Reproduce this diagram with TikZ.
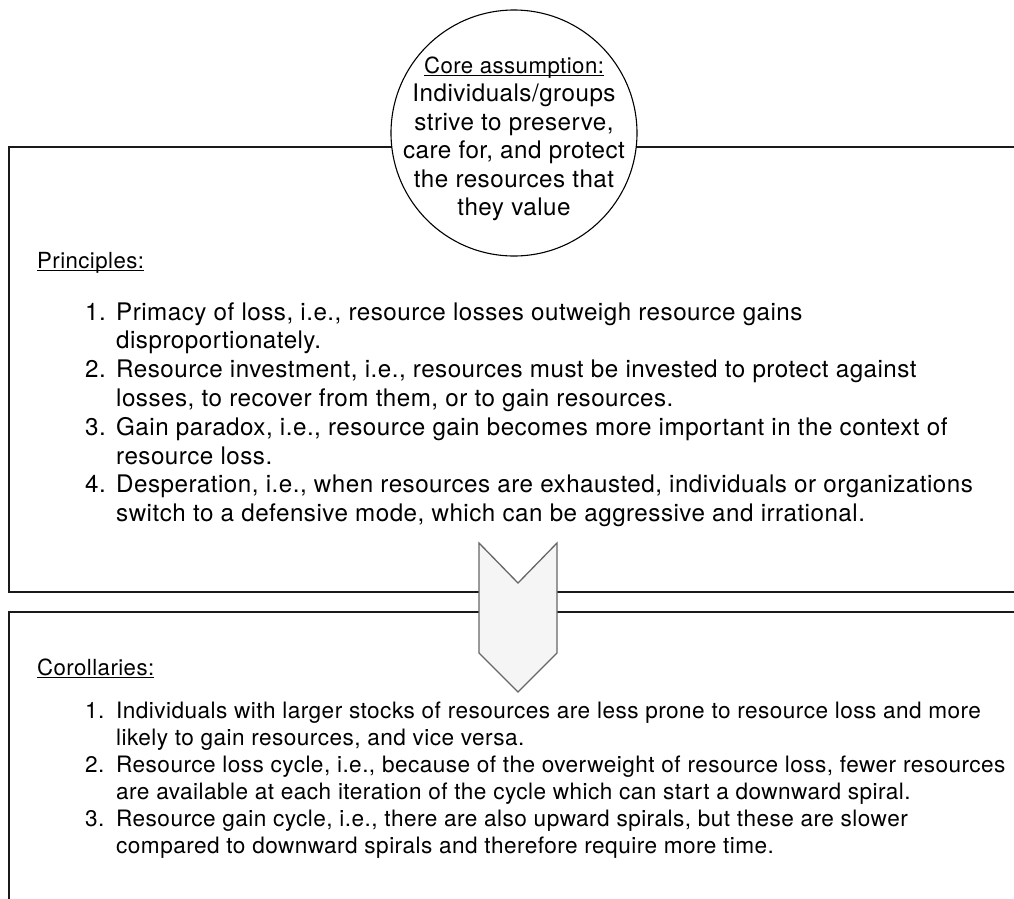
\documentclass[tikz,border=0pt]{standalone}
\usepackage{fontspec}
\setmainfont{TeX Gyre Heros}
\newfontfamily\spacedfont[LetterSpace=2.0]{TeX Gyre Heros}
\usetikzlibrary{calc}

% underline that sits just under the baseline and crosses descenders
\newcommand{\ulabel}[1]{\setbox0\hbox{#1}\rlap{\rule[-2.8pt]{\wd0}{1.1pt}}\box0}
% fixed-width slot for the item number
\newcommand{\itemno}[1]{\makebox[31pt][l]{#1}}
\newcommand{\headfont}{\spacedfont\fontsize{22.2}{28.5}\selectfont}

\definecolor{chevfill}{HTML}{F5F5F5}
\definecolor{chevline}{HTML}{666666}
\definecolor{frameline}{HTML}{1A1A1A}

\tikzset{
  frame/.style={draw=frameline, line width=1.6pt},
  coreshape/.style={circle, draw=black, fill=white, line width=1.1pt,
    minimum size=246pt, inner sep=0pt},
  chevron/.style={fill=chevfill, draw=chevline, line width=1.3pt, line join=miter},
  bodytext/.style={inner sep=0pt, font=\spacedfont\fontsize{24.2}{28.8}\selectfont},
  smalltext/.style={inner sep=0pt, font=\spacedfont\fontsize{22.6}{27.1}\selectfont},
  heading/.style={inner sep=0pt, anchor=base west, font=\headfont},
  listblock/.style={bodytext, anchor=base west},
  smalllist/.style={smalltext, anchor=base west},
}

\begin{document}
\begin{tikzpicture}[x=1pt, y=-1pt]
  \useasboundingbox (0,0) rectangle (1014,898);
  \begin{scope}
    \clip (0,0) rectangle (1014,898);

    % upper frame: principles (open to the right)
    \draw[frame] (1030,147) -- (9,147) -- (9,592) -- (1030,592);
    % lower frame: corollaries (open to the right and bottom)
    \draw[frame] (1030,612) -- (9,612) -- (9,910);

    % core assumption circle sitting on the upper frame
    \node[coreshape] (core) at (514,133) {};
    \node[inner sep=0pt, anchor=base, font=\spacedfont\fontsize{24.2}{28.5}\selectfont]
      (coretext) at (514,73)
      {\begin{tabular}[t]{@{}c@{}}
        {\headfont\ulabel{Core assumption:}}\\
        Individuals/groups\\
        strive to preserve,\\
        care for, and protect\\
        the resources that\\
        they value
      \end{tabular}};

    % chevron linking the two frames
    \path[chevron] (479,543) coordinate (cA) -- (518,583) coordinate (cB)
      -- (557,543) coordinate (cC) -- (557,653) coordinate (cD)
      -- (518,692) coordinate (cE) -- (479,653) coordinate (cF) -- cycle;

    % principles
    \node[heading] (prinhead) at (37,268) {\ulabel{Principles:}};
    \node[listblock] (prinlist) at (85,320)
      {\begin{tabular}[t]{@{}l@{}}
        \itemno{1.}Primacy of loss, i.e., resource losses outweigh resource gains\\
        \itemno{}disproportionately.\\
        \itemno{2.}Resource investment, i.e., resources must be invested to protect against\\
        \itemno{}losses, to recover from them, or to gain resources.\\
        \itemno{3.}Gain paradox, i.e., resource gain becomes more important in the context of\\
        \itemno{}resource loss.\\
        \itemno{4.}Desperation, i.e., when resources are exhausted, individuals or organizations\\
        \itemno{}switch to a defensive mode, which can be aggressive and irrational.
      \end{tabular}};

    % corollaries
    \node[heading] (corhead) at (37,675) {\ulabel{Corollaries:}};
    \node[smalllist] (corlist) at (85,718)
      {\begin{tabular}[t]{@{}l@{}}
        \itemno{1.}Individuals with larger stocks of resources are less prone to resource loss and more\\
        \itemno{}likely to gain resources, and vice versa.\\
        \itemno{2.}Resource loss cycle, i.e., because of the overweight of resource loss, fewer resources\\
        \itemno{}are available at each iteration of the cycle which can start a downward spiral.\\
        \itemno{3.}Resource gain cycle, i.e., there are also upward spirals, but these are slower\\
        \itemno{}compared to downward spirals and therefore require more time.
      \end{tabular}};
  \end{scope}
\end{tikzpicture}
\end{document}
